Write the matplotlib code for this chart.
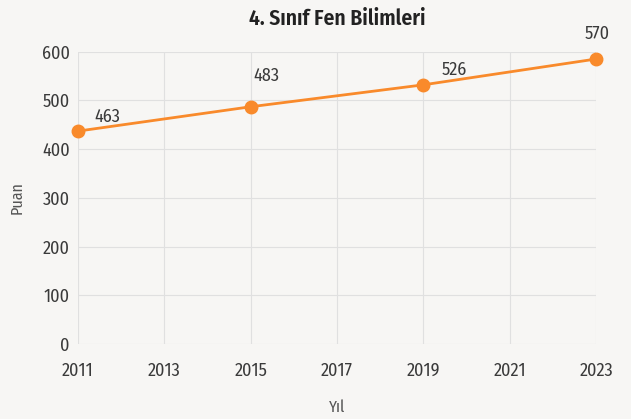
import matplotlib.pyplot as plt
from matplotlib import font_manager

# data
years = [2011, 2015, 2019, 2023]
plotted = [437, 487, 532, 585]          # where the markers sit on the axis
labels = ['463', '483', '526', '570']   # the numbers printed next to them
x_ticks = [2011, 2013, 2015, 2017, 2019, 2021, 2023]
y_ticks = [0, 100, 200, 300, 400, 500, 600]

# label centre offsets in points (x, y)
label_offsets = [(21, 10), (11, 22), (22, 11), (1, 18)]

# pick a condensed face if one is installed
names = {f.name for f in font_manager.fontManager.ttflist}
family = 'DejaVu Sans'
for cand in ['Fira Sans Condensed', 'PT Sans Narrow', 'Roboto Condensed',
             'Open Sans Condensed', 'Encode Sans Condensed', 'Asap Condensed',
             'Liberation Sans Narrow']:
    if cand in names:
        family = cand
        break
plt.rcParams['font.family'] = [family, 'DejaVu Sans']

BG = '#f7f6f4'
ORANGE = '#f98a2b'
TXT = '#3a3a3a'

fig = plt.figure(figsize=(6.31, 4.19), dpi=100, facecolor=BG)
ax = fig.add_axes([0.1236, 0.179, 0.821, 0.6976], facecolor=BG)

ax.plot(years, plotted, color=ORANGE, linewidth=2, marker='o', markersize=9,
        clip_on=False, zorder=3)
for x, y, t, off in zip(years, plotted, labels, label_offsets):
    ax.annotate(t, (x, y), xytext=off, textcoords='offset points',
                ha='center', va='center', fontsize=13, color=TXT)

ax.set_xlim(2011, 2023)
ax.set_ylim(0, 600)
ax.set_xticks(x_ticks)
ax.set_yticks(y_ticks)
ax.grid(True, color='#e0e0e0', linewidth=0.8)
ax.set_axisbelow(True)
for s in ax.spines.values():
    s.set_visible(False)
ax.tick_params(length=0, labelsize=13, labelcolor=TXT, pad=6)
ax.tick_params(axis='x', pad=13)

ax.set_xlabel('Yıl', fontsize=11.5, color='#555555', labelpad=14)
ax.set_ylabel('Puan', fontsize=11.5, color='#555555', labelpad=12)
ax.set_title('4. Sınıf Fen Bilimleri', pad=19, fontsize=15.5, fontweight='semibold', color='#222222')

fig.savefig('out.png', dpi=100, facecolor=BG)
